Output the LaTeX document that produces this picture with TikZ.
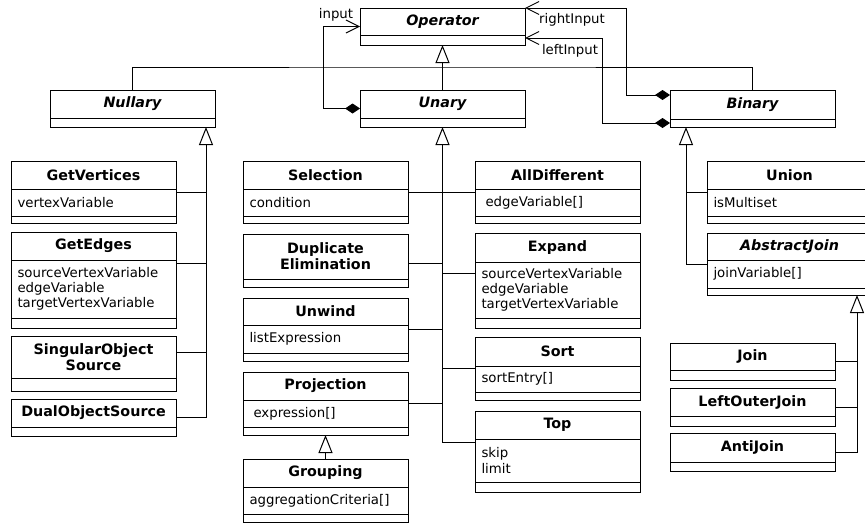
\documentclass[tikz,border=0pt]{standalone}
\usepackage{fontspec}
\setmainfont{DejaVu Sans}[ItalicFont={DejaVu Sans Oblique}, BoldFont={DejaVu Sans Bold}, BoldItalicFont={DejaVu Sans Bold Oblique}]
\usetikzlibrary{arrows.meta}
\tikzset{
	clsbox/.style={draw, inner sep=0pt, outer sep=0pt},
	clstitle/.style={font=\fontsize{14.3}{16}\selectfont\bfseries, align=center, inner sep=0pt},
	clsattr/.style={font=\fontsize{13.3}{15.3}\selectfont, align=left, anchor=west, inner sep=0pt},
	lbl/.style={font=\fontsize{13.3}{15.3}\selectfont, inner sep=0pt},
	gen/.style={-{Triangle[open, length=18pt, width=14pt]}},
	comp/.style={{Diamond[length=15pt, width=10pt]}-{Straight Barb[length=13pt, width=13pt]}},
}
% (name)(left,width,top)(title bottom:attr bottom:bottom){title}{attributes}
\def\umlclass(#1)(#2,#3,#4)(#5:#6:#7)#8#9{%
	\node[clsbox, minimum width=#3pt, minimum height={(#7-#4)*1pt}, anchor=north west] (#1) at (#2,#4) {};
	\draw (#2,#5) -- ++(#3,0);
	\draw (#2,#6) -- ++(#3,0);
	\node[clstitle] at ({#2+#3/2},{(#4+#5)/2}) {#8};
	\node[clsattr] at ({#2+6},{(#5+#6)/2}) {#9};
}

\begin{document}
\begin{tikzpicture}[x=1pt, y=-1pt, line width=1pt]
		%%%%% START %%%%%
		\clip (0,0) rectangle (865,525);
		
		\umlclass(operator)(360,165,8)(35:35:45){\itshape Operator}{}
		\umlclass(nullary)(50,165,90)(118:118:127){\itshape Nullary}{}
		\umlclass(unary)(360,165,90)(118:118:127){\itshape Unary}{}
		\umlclass(binary)(670,165,90)(119:119:127){\itshape Binary}{}
		
		\umlclass(getvertices)(11,165,161)(189:216:223){GetVertices}{vertexVariable}
		\umlclass(getedges)(11,165,232)(260:318:328){GetEdges}{sourceVertexVariable\\edgeVariable\\targetVertexVariable}
		\umlclass(singular)(11,165,336)(378:378:391){SingularObject\\Source}{}
		\umlclass(dual)(11,165,399)(427:427:436){DualObjectSource}{}
		
		\umlclass(selection)(243,165,161)(189:216:223){Selection}{condition}
		\umlclass(distinct)(243,165,234)(279:279:287){Duplicate\\Elimination}{}
		\umlclass(unwind)(243,165,298)(325:353:361){Unwind}{listExpression}
		\umlclass(projection)(243,165,372)(400:427:435){Projection}{\hspace{4pt}expression[]}
		\umlclass(grouping)(243,165,459)(487:514:522){Grouping}{aggregationCriteria[]}
		
		\umlclass(alldifferent)(475,165,161)(189:216:223){AllDifferent}{\hspace{4pt}edgeVariable[]}
		\umlclass(expand)(475,165,233)(262:318:328){Expand}{sourceVertexVariable\\edgeVariable\\targetVertexVariable}
		\umlclass(sort)(475,165,337)(366:392:400){Sort}{sortEntry[]}
		\umlclass(top)(475,165,411)(439:482:492){Top}{skip\\limit}
		
		\umlclass(union)(707,165,161)(189:216:223){Union}{isMultiset}
		\umlclass(abstractjoin)(707,165,233)(260:288:295){\itshape AbstractJoin}{joinVariable[]}
		\umlclass(join)(670,165,343)(370:370:380){Join}{}
		\umlclass(leftouterjoin)(670,165,388)(416:416:426){LeftOuterJoin}{}
		\umlclass(antijoin)(670,165,433)(462:462:471){AntiJoin}{}
		
		% operator hierarchy
		\coordinate (opbus) at (442.5,67);
		\draw[gen] (unary.north) -- (operator.south);
		\draw (nullary.north) |- (opbus) -| (binary.north);
		
		% inputs
		\draw[comp] (unary.west) -- ++(-37,0) |- (operator.west);
		\draw[comp] ([yshift=13.5pt]binary.west) -- ++(-44,0) |- (operator.north east);
		\draw[comp] ([yshift=-14.5pt]binary.west) -- ++(-68,0) |- ([yshift=-11.5pt]operator.east);
		\node[lbl] (inputlbl) at (336,15) {input};
		\node[lbl] (rightlbl) at (572,20) {rightInput};
		\node[lbl] (leftlbl) at (570,51) {leftInput};
		
		% nullary
		\draw[gen] (dual.east) -| ([xshift=-9pt]nullary.south east);
		\draw (getvertices.east) -- +(30,0);
		\draw ([yshift=17pt]getedges.east) -- +(30,0);
		\draw ([yshift=11.5pt]singular.east) -- +(30,0);
		
		% unary
		\draw[gen] ([yshift=9.5pt]top.west) -| (unary.south);
		\draw (selection.east) -- (alldifferent.west);
		\draw ([yshift=-2.5pt]distinct.east) -- +(34.5,0);
		\draw ([yshift=7.5pt]expand.west) -- +(-32.5,0);
		\draw (unwind.east) -- +(34.5,0);
		\draw (sort.west) -- +(-32.5,0);
		\draw (projection.east) -- +(34.5,0);
		\draw[gen] (grouping.north) -- (projection.south);
		
		% binary
		\draw[gen] (abstractjoin.west) -| ([xshift=16pt]binary.south west);
		\draw (union.west) -- +(-21,0);
		\draw[gen] (antijoin.east) -| ([xshift=150pt]abstractjoin.south west);
		\draw (join.east) -- +(22,0);
		\draw (leftouterjoin.east) -- +(22,0);
		
		%%%%% END %%%%%
\end{tikzpicture}
\end{document}
